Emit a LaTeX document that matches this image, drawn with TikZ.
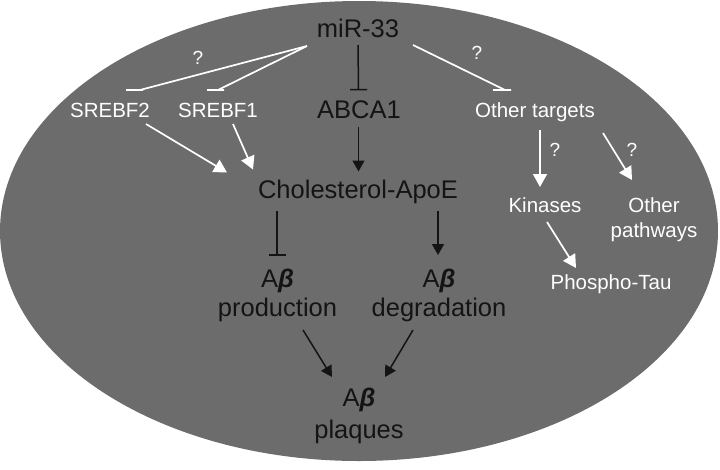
\documentclass[tikz,border=0pt]{standalone}
\usepackage{fontspec}
\setmainfont{Liberation Sans}
\usetikzlibrary{arrows.meta,calc}
\definecolor{bg}{RGB}{108,108,108}
\definecolor{ink}{RGB}{20,20,20}
\newcommand\Abeta{A{\bfseries\itshape β}}
\begin{document}
\begin{tikzpicture}[x=1pt,y=-1pt,
  big/.style={font=\fontsize{25.5}{29.5}\selectfont, text=ink, inner sep=0pt, anchor=base},
  small/.style={font=\fontsize{20.5}{24.3}\selectfont, text=white, inner sep=0pt, anchor=base},
  qm/.style={font=\fontsize{19}{22}\selectfont, text=white, inner sep=0pt},
  wline/.style={draw=white, line width=1.7pt},
  bline/.style={draw=ink, line width=1.5pt},
  warr/.style={-{Triangle[length=13pt,width=14pt]}},
  barr/.style={-{Triangle[length=11pt,width=12pt]}}
]
\useasboundingbox (0,0) rectangle (720,469);
\fill[bg] (359,231) ellipse [x radius=359pt, y radius=230pt];

\node[big] (mir) at (358,37.5) {miR-33};
\node[small] (s2) at (110,117) {SREBF2};
\node[small] (s1) at (218,117) {SREBF1};
\node[big] (abca) at (359,118) {ABCA1};
\node[small] (oth) at (535,117) {Other targets};
\node[big] (chol) at (358,198.5) {Cholesterol-ApoE};
\node[small] (kin) at (545,212.7) {Kinases};
\node[small] (path) at (654,212.7) {\begin{tabular}[t]{@{}c@{}}Other\\pathways\end{tabular}};
\node[small] (tau) at (611,289) {Phospho-Tau};
\node[big] (prod) at (277.5,287.3) {\begin{tabular}[t]{@{}c@{}}\Abeta\\production\end{tabular}};
\node[big] (deg) at (439,287.3) {\begin{tabular}[t]{@{}c@{}}\Abeta\\degradation\end{tabular}};
\node[big] (plq) at (359,406) {\begin{tabular}[t]{@{}c@{}}\Abeta\\[2.5pt]plaques\end{tabular}};

\node[qm] (q1) at (198,58) {?};
\node[qm] (q2) at (477,53) {?};
\node[qm] (q3) at (555,150) {?};
\node[qm] (q4) at (632,150) {?};

% inhibitions from miR-33 (flat horizontal bars)
\draw[wline] ($(mir.base)+(-51,8.5)$) -- ($(s2.base)+(30,-27)$) ++(-14,0) -- ++(17,0);
\draw[wline] ($(mir.base)+(-51,8.5)$) -- ($(s1.base)+(0,-27)$) ++(-11,0) -- ++(17,0);
\draw[bline] ($(mir.base)+(0,7.5)$) -- ($(abca.base)+(-0.5,-28.5)$) ++(-8.5,0) -- ++(17,0);
\draw[wline] ($(mir.base)+(55,7.5)$) -- ($(oth.base)+(-30,-27)$) ++(-12,0) -- ++(18,0);

% to cholesterol
\draw[wline,warr] ($(s2.base)+(36,7)$) -- ($(chol.base)+(-131,-26)$);
\draw[wline,warr] ($(s1.base)+(15,7)$) -- ($(chol.base)+(-105,-29)$);
\draw[bline,barr] ($(abca.base)+(-0.5,9)$) -- ($(chol.base)+(0.5,-27)$);

% from cholesterol
\draw[bline] ($(chol.base)+(-81,12.5)$) -- ($(prod.base)+(-0.5,-32.3)$) ++(-8.5,0) -- ++(17,0);
\draw[bline,barr] ($(chol.base)+(80,12.5)$) -- ($(deg.base)+(-1,-32.3)$);

% to plaques
\draw[bline,barr] ($(prod.base)+(25.5,42.7)$) -- ($(plq.base)+(-27,-29)$);
\draw[bline,barr] ($(deg.base)+(-26,42.7)$) -- ($(plq.base)+(26,-29)$);

% other targets branch
\draw[wline,warr] ($(oth.base)+(5,13)$) -- ($(kin.base)+(-5,-25.7)$);
\draw[wline,warr] ($(oth.base)+(68,16)$) -- ($(path.base)+(-22,-32.7)$);
\draw[wline,warr] ($(kin.base)+(2,9.3)$) -- ($(tau.base)+(-35,-21)$);
\end{tikzpicture}
\end{document}
